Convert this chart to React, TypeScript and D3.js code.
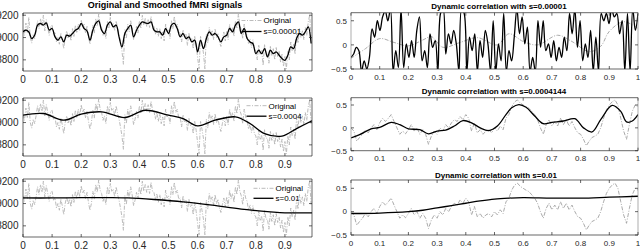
import React from 'react';
import * as d3 from 'd3';

// tick values
const leftXTicks = [0, 0.1, 0.2, 0.3, 0.4, 0.5, 0.6, 0.7, 0.8, 0.9];
const leftYTicks = [8800, 9000, 9200];
const rightXTicks = [0, 0.1, 0.2, 0.3, 0.4, 0.5, 0.6, 0.7, 0.8, 0.9, 1];
const rightYTicks = [-0.5, 0, 0.5];

// fMRI signal, sampled every 0.005
const fmriOriginal = [
  9070, 9020, 9130, 9040, 9180, 9000, 8950, 9030, 8990, 9060,
  9150, 9080, 9170, 9100, 9200, 9060, 9160, 9090, 9020, 9100,
  9110, 9030, 9050, 8960, 9000, 8940, 9040, 8980, 8900, 9000,
  9060, 8990, 9040, 8970, 9080, 9010, 9110, 9040, 9120, 9060,
  9160, 9090, 9120, 9040, 9100, 9010, 8940, 9000, 9110, 9040,
  9170, 9100, 9210, 9120, 9090, 9020, 9060, 8990, 9150, 9080,
  9180, 9110, 9130, 9060, 9150, 9080, 9030, 8960, 8880, 8760,
  9070, 8990, 9120, 9050, 9150, 9080, 8980, 9030, 9100, 9040,
  9150, 9080, 9200, 9110, 9170, 9100, 9160, 9090, 9190, 9110,
  9100, 9030, 9090, 9010, 9080, 8990, 9050, 8970, 9120, 9050,
  9070, 8990, 9150, 9080, 9190, 9090, 9120, 9040, 9050, 8960,
  9070, 9000, 9030, 8930, 9040, 8970, 8990, 8900, 9010, 8930,
  8820, 8720, 9010, 8940, 8860, 8720, 9030, 8950, 9090, 9020,
  9060, 8980, 9080, 9000, 9040, 8960, 8920, 8990, 9050, 8970,
  9060, 8980, 9120, 9040, 9090, 9010, 9150, 9080, 9210, 9110,
  9070, 8990, 9120, 9050, 9020, 8940, 8990, 8910, 8980, 8900,
  8880, 8800, 8930, 8850, 8890, 8750, 8940, 8860, 8860, 8770,
  8920, 8840, 8900, 8800, 8910, 8830, 8880, 8780, 8850, 8740,
  8830, 8720, 8880, 8800, 8960, 8880, 8940, 8850, 9040, 8950,
  9080, 9000, 9060, 8980, 9090, 9020, 9140, 9200, 8990,
];

// smoothed with s=0.00001, every 0.01
const fmriFine = [
  9051, 9066, 9050, 8990, 9020, 9111, 9126, 9111, 9132, 9066,
  9081, 9006, 8976, 9006, 8961, 9021, 9012, 9036, 9066, 9081,
  9126, 9081, 9060, 8976, 9066, 9126, 9150, 9066, 9036, 9111,
  9141, 9096, 9111, 9006, 8916, 9036, 9081, 9111, 9006, 9066,
  9111, 9141, 9132, 9126, 9141, 9066, 9051, 9051, 9021, 9081,
  9036, 9111, 9126, 9081, 9006, 9036, 8991, 9006, 8961, 8976,
  8871, 8976, 8901, 8991, 9051, 9021, 9036, 9006, 8961, 9006,
  9021, 9081, 9051, 9111, 9141, 9036, 9081, 8991, 8961, 8946,
  8856, 8886, 8856, 8901, 8826, 8886, 8856, 8871, 8841, 8811,
  8796, 8841, 8916, 8901, 8991, 9036, 9021, 9051, 9096, 8946,
];

// smoothed with s=0.0004
const fmriMidT = [0, 0.07, 0.14, 0.2, 0.27, 0.35, 0.42, 0.5, 0.55, 0.6, 0.66, 0.73, 0.78, 0.83, 0.89, 0.94, 0.993];
const fmriMid = [9066, 9081, 9021, 9075, 9096, 9045, 9110, 9066, 9036, 8970, 9021, 9051, 8991, 8901, 8878, 8946, 9015];

// smoothed with s=0.01
const fmriCoarseT = [0, 0.1, 0.2, 0.3, 0.36, 0.45, 0.55, 0.65, 0.75, 0.85, 0.9, 0.993];
const fmriCoarse = [9050, 9050, 9053, 9053, 9050, 9036, 9015, 8985, 8950, 8926, 8917, 8917];

// dynamic correlation, raw estimate (grey, panels 2 and 3), every 0.01
const corrOriginal = [
  0, -0.07, -0.29, -0.21, -0.14, -0.04, -0.11, 0, 0.07, -0.04,
  0.11, 0.21, 0.14, 0.21, 0.29, 0.14, 0, -0.14, -0.07, -0.13,
  -0.04, 0.07, -0.07, 0, -0.14, -0.04, -0.14, -0.36, -0.18, -0.07,
  -0.14, 0, -0.07, 0.07, 0, 0.11, 0.18, 0.14, 0.25, 0.18,
  0.29, 0.21, -0.07, 0.11, -0.11, -0.04, -0.14, -0.07, -0.04, -0.11,
  0, -0.07, 0.04, -0.04, 0.21, 0.29, 0.46, 0.57, 0.61, 0.54,
  0.5, 0.46, 0.43, 0.36, 0.29, 0.18, 0, -0.14, 0.07, 0.18,
  0.04, 0.14, 0.04, 0.21, 0.07, 0.18, 0.04, 0.14, 0, -0.11,
  -0.14, -0.25, -0.39, -0.29, -0.21, -0.18, -0.14, 0, 0.21, 0.39,
  0.5, 0.57, 0.61, 0.5, 0.21, -0.07, -0.25, 0.07, 0.36, 0.5,
  0.46,
];

// grey reference in the first correlation panel
const corrSlowT = [0, 0.05, 0.1, 0.15, 0.2, 0.25, 0.28, 0.32, 0.38, 0.44, 0.51, 0.55, 0.6, 0.65, 0.72, 0.77, 0.83, 0.87, 0.9, 0.95, 1];
const corrSlow = [-0.28, -0.08, 0.13, 0.05, -0.02, 0.1, 0.17, -0.05, 0.05, 0.15, 0, 0.23, 0.07, 0, 0.2, 0.07, -0.14, -0.03, 0.28, 0.48, 0.34];

// correlation with s=0.00001 (evenly spaced over [0, 1])
const corrRough = [
  -0.26, -0.19, -0.05, -0.12, -0.55, -0.33, -0.5, -0.26, 0.33, 0.16,
  0.5, 0.3, 0.58, 0.7, 0.5, 0.75, -0.55, -0.12, -0.47, 0.75,
  -0.47, 0.02, -0.26, 0.09, -0.26, 0.3, 0.58, -0.33, -0.12, -0.47,
  0.23, -0.05, 0.09, -0.55, 0.65, 0.75, -0.19, 0.23, 0.02, 0.3,
  0.02, -0.55, 0.75, 0.65, -0.55, 0.16, -0.12, 0.23, -0.55, 0.09,
  -0.26, 0.3, 0.02, -0.55, 0.5, -0.55, 0.02, -0.33, 0.65, -0.55,
  -0.12, -0.33, 0.16, 0.75, 0.23, 0.58, 0.02, 0.37, -0.55, -0.26,
  -0.55, 0.5, -0.05, 0.5, -0.12, 0.02, -0.26, 0.09, -0.33, -0.05,
  -0.26, 0.16, -0.12, 0.65, 0.23, 0.75, -0.05, 0.5, -0.33, 0.02,
  -0.26, 0.3, -0.55, 0.16, -0.55, 0.65, 0.5, 0.65, 0.44, 0.75,
  0.58, 0.65, 0.23, 0.5, -0.55, 0.65, -0.55, 0.75, 0.3, 0.65,
];

// correlation with s=0.0004144
const corrMidT = [0, 0.03, 0.07, 0.1, 0.14, 0.17, 0.2, 0.24, 0.27, 0.3, 0.33, 0.36, 0.39, 0.42, 0.45, 0.48, 0.51, 0.54, 0.56, 0.585, 0.61, 0.64, 0.67, 0.7, 0.74, 0.78, 0.81, 0.84, 0.87, 0.91, 0.94, 0.96, 0.98, 1];
const corrMid = [-0.22, -0.15, -0.02, 0.01, 0.12, 0.07, -0.02, -0.04, -0.13, -0.07, -0.05, 0.04, 0.16, 0.11, 0, -0.06, 0.04, 0.29, 0.44, 0.51, 0.45, 0.26, 0.09, 0.12, 0.15, 0.2, 0, -0.09, 0.18, 0.49, 0.36, 0.13, 0.15, 0.29];

// correlation with s=0.01
const corrSmoothT = [0, 0.1, 0.2, 0.25, 0.3, 0.35, 0.4, 0.45, 0.5, 0.55, 0.6, 0.7, 0.8, 0.9, 1];
const corrSmooth = [-0.04, -0.03, 0, 0.03, 0.08, 0.13, 0.18, 0.23, 0.27, 0.29, 0.3, 0.29, 0.29, 0.31, 0.33];

const FONT = '"Liberation Sans", Arial, Helvetica, sans-serif';

function byStep(values: number[], step: number) {
  return values.map((_, i) => i * step);
}

const panels = [
  {
    id: 'l1', left: 23, right: 312, top: 13, bottom: 71, xMax: 0.993, yMin: 8700, yMax: 9220,
    xTicks: leftXTicks, yTicks: leftYTicks, font: 10, side: 'left',
    title: 'Original and Smoothed fMRI signals', titleX: 165, titleY: 8, titleSize: 9,
    series: [
      { t: byStep(fmriOriginal, 0.005), v: fmriOriginal, grey: true },
      { t: byStep(fmriFine, 0.01), v: fmriFine, grey: false },
    ],
    legend: { label: 's=0.00001', x: 241.5, y: 20.5, gap: 11 },
  },
  {
    id: 'l2', left: 23, right: 312, top: 98, bottom: 156, xMax: 0.993, yMin: 8700, yMax: 9220,
    xTicks: leftXTicks, yTicks: leftYTicks, font: 10, side: 'left',
    series: [
      { t: byStep(fmriOriginal, 0.005), v: fmriOriginal, grey: true },
      { t: fmriMidT, v: fmriMid, grey: false },
    ],
    legend: { label: 's=0.0004', x: 246.5, y: 105.7, gap: 10.5 },
  },
  {
    id: 'l3', left: 23, right: 312, top: 179, bottom: 237, xMax: 0.993, yMin: 8700, yMax: 9220,
    xTicks: leftXTicks, yTicks: leftYTicks, font: 10, side: 'left',
    series: [
      { t: byStep(fmriOriginal, 0.005), v: fmriOriginal, grey: true },
      { t: fmriCoarseT, v: fmriCoarse, grey: false },
    ],
    legend: { label: 's=0.01', x: 253.5, y: 188.3, gap: 10 },
  },
  {
    id: 'r1', left: 351, right: 638, top: 12.7, bottom: 69, xMax: 1, yMin: -0.5, yMax: 0.667,
    xTicks: rightXTicks, yTicks: rightYTicks, font: 8, side: 'right',
    title: 'Dynamic correlation with s=0.00001', titleX: 499, titleY: 9.3, titleSize: 8,
    series: [
      { t: corrSlowT, v: corrSlow, grey: true },
      { t: byStep(corrRough, 1 / (corrRough.length - 1)), v: corrRough, grey: false },
    ],
  },
  {
    id: 'r2', left: 351, right: 638, top: 97.7, bottom: 150.7, xMax: 1, yMin: -0.5, yMax: 0.66,
    xTicks: rightXTicks, yTicks: rightYTicks, font: 8, side: 'right',
    title: 'Dynamic correlation with s=0.0004144', titleX: 494, titleY: 94.3, titleSize: 8,
    series: [
      { t: byStep(corrOriginal, 0.01), v: corrOriginal, grey: true },
      { t: corrMidT, v: corrMid, grey: false },
    ],
  },
  {
    id: 'r3', left: 351, right: 638, top: 180, bottom: 235, xMax: 1, yMin: -0.5, yMax: 0.678,
    xTicks: rightXTicks, yTicks: rightYTicks, font: 8, side: 'right',
    title: 'Dynamic correlation with s=0.01', titleX: 496, titleY: 177.6, titleSize: 8,
    series: [
      { t: byStep(corrOriginal, 0.01), v: corrOriginal, grey: true },
      { t: corrSmoothT, v: corrSmooth, grey: false },
    ],
  },
];

function Panel({ p }: { p: any }) {
  const x = d3.scaleLinear().domain([0, p.xMax]).range([p.left, p.right]);
  const y = d3.scaleLinear().domain([p.yMin, p.yMax]).range([p.bottom, p.top]);
  const tk = 3;
  const isLeft = p.side === 'left';
  const greyColor = isLeft ? '#b4b4b4' : '#a0a0a0';
  const vEdge = isLeft ? '#262626' : '#8a8a8a';

  return (
    <g>
      <defs>
        <clipPath id={`clip-${p.id}`}>
          <rect x={p.left} y={p.top} width={p.right - p.left} height={p.bottom - p.top} />
        </clipPath>
      </defs>
      <g clipPath={`url(#clip-${p.id})`}>
        {p.series.map((s: any, i: number) => {
          const pts = s.t.map((t: number, k: number) => [t, s.v[k]] as [number, number]);
          const line = d3.line<[number, number]>()
            .x((d) => x(d[0]))
            .y((d) => y(d[1]))
            .curve(s.grey && s.t.length > 60 ? d3.curveLinear : d3.curveCatmullRom.alpha(0.5));
          return (
            <path
              key={i}
              d={line(pts) || ''}
              fill="none"
              stroke={s.grey ? greyColor : '#000'}
              strokeWidth={s.grey ? 0.9 : 1.3}
              strokeDasharray={s.grey ? '4,1.5,1,1.5' : undefined}
              strokeLinejoin="round"
            />
          );
        })}
      </g>
      {/* box */}
      <line x1={p.left} x2={p.right} y1={p.top} y2={p.top} stroke="#262626" strokeWidth={0.7} />
      <line x1={p.left} x2={p.right} y1={p.bottom} y2={p.bottom} stroke="#262626" strokeWidth={0.7} />
      <line x1={p.left} x2={p.left} y1={p.top} y2={p.bottom} stroke={vEdge} strokeWidth={0.7} />
      <line x1={p.right} x2={p.right} y1={p.top} y2={p.bottom} stroke={vEdge} strokeWidth={0.7} />
      {p.xTicks.map((t: number) => (
        <g key={`x${t}`}>
          <line x1={x(t)} x2={x(t)} y1={p.bottom} y2={p.bottom - tk} stroke="#262626" strokeWidth={0.7} />
          <line x1={x(t)} x2={x(t)} y1={p.top} y2={p.top + tk} stroke="#262626" strokeWidth={0.7} />
          <text
            x={x(t)}
            y={p.bottom + (isLeft ? 12 : 10.5)}
            textAnchor="middle"
            fontSize={p.font}
            fill="#262626"
          >
            {d3.format('~g')(t)}
          </text>
        </g>
      ))}
      {p.yTicks.map((v: number) => (
        <g key={`y${v}`}>
          <line x1={p.left} x2={p.left + tk} y1={y(v)} y2={y(v)} stroke="#262626" strokeWidth={0.7} />
          <line x1={p.right} x2={p.right - tk} y1={y(v)} y2={y(v)} stroke="#262626" strokeWidth={0.7} />
          <text
            x={p.left - (isLeft ? 4.5 : 4)}
            y={y(v)}
            dy="0.35em"
            textAnchor="end"
            fontSize={p.font}
            fill="#262626"
          >
            {d3.format('~g')(v)}
          </text>
        </g>
      ))}
      {p.title && (
        <text x={p.titleX} y={p.titleY} textAnchor="middle" fontSize={p.titleSize} fontWeight="bold" fill="#000">
          {p.title}
        </text>
      )}
      {p.legend && (
        <g fontSize={8} fill="#000">
          <line
            x1={p.legend.x} x2={p.legend.x + 20}
            y1={p.legend.y} y2={p.legend.y}
            stroke={greyColor} strokeWidth={0.9} strokeDasharray="4,1.5,1,1.5"
          />
          <text x={p.legend.x + 22} y={p.legend.y} dy="0.35em">Original</text>
          <line
            x1={p.legend.x} x2={p.legend.x + 20}
            y1={p.legend.y + p.legend.gap} y2={p.legend.y + p.legend.gap}
            stroke="#000" strokeWidth={1.3}
          />
          <text x={p.legend.x + 22} y={p.legend.y + p.legend.gap} dy="0.35em">{p.legend.label}</text>
        </g>
      )}
    </g>
  );
}

export default function App() {
  return (
    <svg
      width={640}
      height={252}
      style={{ position: 'absolute', left: 0, top: 0, background: '#fff', fontFamily: FONT }}
    >
      <rect width={640} height={252} fill="#fff" />
      {panels.map((p) => (
        <Panel key={p.id} p={p} />
      ))}
    </svg>
  );
}
